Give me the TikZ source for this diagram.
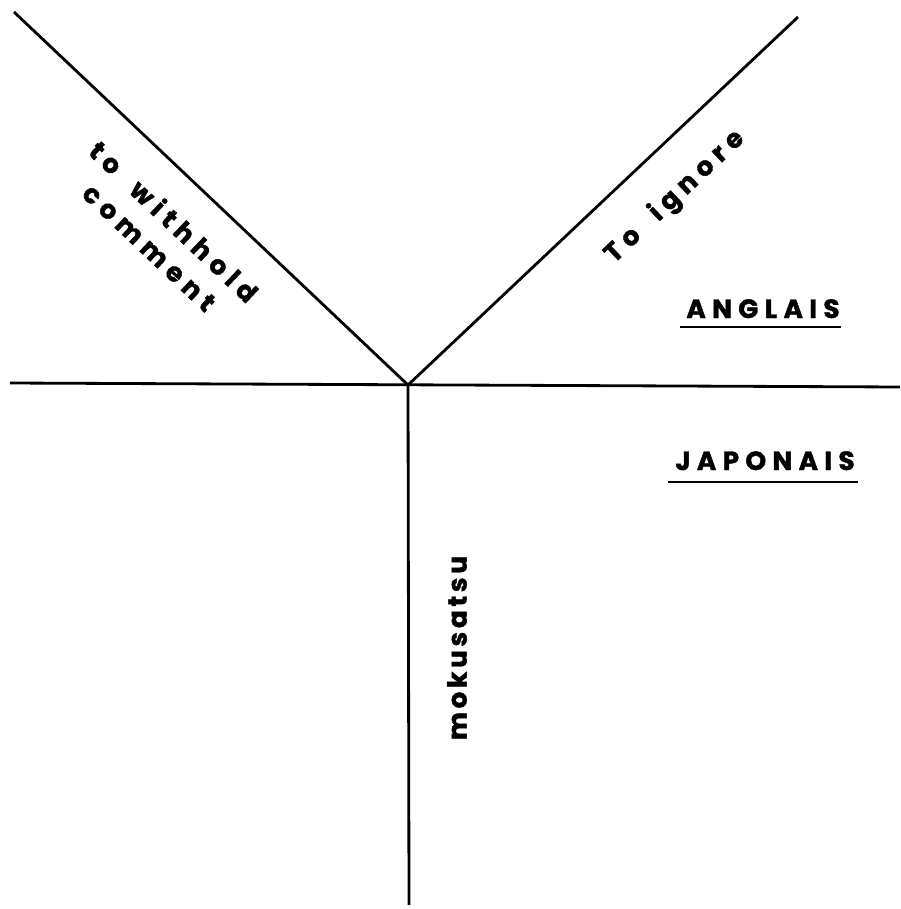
\documentclass[tikz,border=0pt]{standalone}
\usepackage{fontspec}
\newfontfamily\labfont{Poppins}[LetterSpace=24, BoldFeatures={FakeBold=1.5}]
\newfontfamily\labfontv{Poppins}[LetterSpace=14, BoldFeatures={FakeBold=1.5}]
\def\lblfont{\labfont\bfseries\fontsize{15pt}{20pt}\selectfont}
\def\vlblfont{\labfontv\bfseries\fontsize{15pt}{20pt}\selectfont}
\def\wsp{\hspace*{0.85em}}
\tikzset{
  axisline/.style={line width=1.6pt, draw=black},
  ulinestyle/.style={line width=1.5pt, draw=black},
  wordlbl/.style={font=\lblfont, text=black, inner sep=0pt, align=center}
}

\begin{document}
\begin{tikzpicture}[x=0.02cm, y=-0.02cm]
\useasboundingbox[fill=white] (0,0) rectangle (900,909);

% ===================== AXES =====================
\coordinate (vtx) at (408,385);
\coordinate (lefttop) at (14,12);
\coordinate (righttop) at (798,17);
\coordinate (hleft) at (10,383);
\coordinate (hright) at (900,387);
\coordinate (vbot) at (409,905);

\draw[axisline] (lefttop) -- (vtx) -- (righttop);
\draw[axisline] (hleft) -- (hright);
\draw[axisline] (vtx) -- (vbot);

% ===================== ENGLISH =====================
\node[wordlbl, rotate=-43.4] (withhold) at (162,234) {to\wsp withhold\\comment};
\node[wordlbl, rotate=43.3] (ignore) at (675,197) {To\wsp ignore};

\node[wordlbl, anchor=base] (anglais) at (763,318) {ANGLAIS};
\draw[ulinestyle] (680,327) -- (841,327);

% ===================== JAPANESE =====================
\node[wordlbl, anchor=base] (japonais) at (765,470) {JAPONAIS};
\draw[ulinestyle] (668,482) -- (858,482);

\node[wordlbl, font=\vlblfont, rotate=90] (mokusatsu) at (457,648) {mokusatsu};
\end{tikzpicture}
\end{document}
